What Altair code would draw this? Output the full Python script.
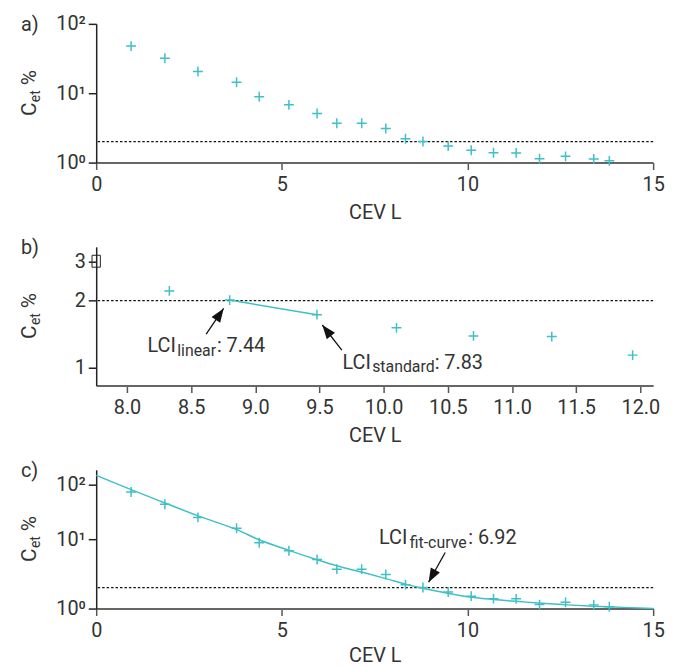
import altair as alt
import pandas as pd

# ---------------- data ----------------
cev = [0.94, 1.85, 2.74, 3.78, 4.39, 5.19, 5.95, 6.48, 7.15, 7.80,
       8.33, 8.80, 9.48, 10.10, 10.70, 11.31, 11.94, 12.64, 13.40, 13.82]
cet = [47.8, 31.9, 20.6, 14.4, 8.9, 6.8, 5.1, 3.7, 3.7, 3.1,
       2.21, 2.01, 1.73, 1.51, 1.39, 1.38, 1.14, 1.23, 1.13, 1.06]

fit_cev = [0, 0.94, 1.85, 2.76, 3.80, 4.39, 5.19, 5.95, 6.5, 7.2, 7.8,
           8.33, 8.82, 9.5, 10.0, 10.7, 11.4, 12.0, 12.7, 13.4, 14.2, 15.0]
fit_cet = [83, 51.8, 33.3, 21.5, 13.6, 9.8, 6.9, 5.06, 4.1, 3.3, 2.7,
           2.25, 1.95, 1.65, 1.48, 1.35, 1.26, 1.19, 1.13, 1.08, 1.04, 1.0]

threshold = [2.0]

x_ticks_ac = [0, 5, 10, 15]
x_ticks_b = [8.0, 8.5, 9.0, 9.5, 10.0, 10.5, 11.0, 11.5, 12.0]
y_ticks_a = [1, 10, 100]
y_ticks_b = [1, 2, 3]
y_ticks_c = [1, 10, 62]

panel_labels = ["a)", "b)", "c)"]

# annotations (data coordinates)
arrow_b_tail_x = [8.617, 9.674]
arrow_b_tail_y = [1.414, 1.201]
arrow_b_tip_x = [8.753, 9.522]
arrow_b_tip_y = [1.844, 1.555]
arrow_b_angle = [34, 322]

arrow_c_tail_x = [9.40]
arrow_c_tail_y = [6.44]
arrow_c_tip_x = [8.953]
arrow_c_tip_y = [2.40]
arrow_c_angle = [209]

lci_linear = ("linear", ": 7.44", 8.160, 1.172)
lci_standard = ("standard", ": 7.83", 9.679, 0.993)
lci_fit = ("fit-curve", ": 6.92", 7.618, 8.57)

# ---------------- styling ----------------
TEAL = "#3fbfc7"
TXT = "#333333"
FONT = "Roboto"
W, H = 562, 140
PLUS = "M-1,0L1,0M0,-1L0,1"
HEAD = "M0,0L0.75,2L-0.75,2Z"
BOX = "M-0.7,-1L0.7,-1L0.7,1L-0.7,1Z"

pts = pd.DataFrame({"cev": cev, "cet": cet})
fit = pd.DataFrame({"cev": fit_cev, "cet": fit_cet})
one = pd.DataFrame({"k": [0]})


def enc_x(domain, ticks, fmt, tpad=8):
    return alt.X(
        "cev:Q",
        scale=alt.Scale(domain=domain, nice=False, zero=False),
        axis=alt.Axis(
            values=ticks, format=fmt, title="CEV L", grid=False,
            domainColor="#666666", domainWidth=2, tickColor="#555555",
            tickWidth=1.5, tickSize=7, labelFont=FONT, labelFontSize=20,
            labelColor=TXT, labelPadding=5, labelFlush=False,
            labelOverlap=False, titleFont=FONT, titleFontSize=20,
            titleFontWeight="normal", titleColor=TXT, titlePadding=tpad,
        ),
    )


def enc_y(domain, ticks, label_expr):
    return alt.Y(
        "cet:Q",
        scale=alt.Scale(type="log", domain=domain, nice=False),
        axis=alt.Axis(
            values=ticks, labelExpr=label_expr, title=None, grid=False,
            domainColor="#222222", domainWidth=1.5, tickColor="#222222",
            tickWidth=1.5, tickSize=8, labelFont=FONT, labelFontSize=20,
            labelColor=TXT, labelPadding=3, labelOverlap=False,
        ),
    )


def decorations(label):
    layers = [
        alt.Chart(one).mark_text(text=label, font=FONT, fontSize=20, color=TXT,
                                 align="left", baseline="alphabetic")
        .encode(x=alt.value(-76), y=alt.value(7)),
        alt.Chart(one).mark_text(text="C", font=FONT, fontSize=21, color=TXT,
                                 angle=270, align="left", baseline="alphabetic")
        .encode(x=alt.value(-61), y=alt.value(93)),
        alt.Chart(one).mark_text(text="et", font=FONT, fontSize=14, color=TXT,
                                 angle=270, align="left", baseline="alphabetic")
        .encode(x=alt.value(-57), y=alt.value(79)),
        alt.Chart(one).mark_text(text="%", font=FONT, fontSize=21, color=TXT,
                                 angle=270, align="left", baseline="alphabetic")
        .encode(x=alt.value(-61), y=alt.value(62)),
    ]
    return layers


def lci_label(X, Y, spec, dx_sub, dx_val):
    sub, val, x, y = spec
    df = pd.DataFrame({"cev": [x], "cet": [y]})
    return [
        alt.Chart(df).mark_text(text="LCI", font=FONT, fontSize=20, color=TXT,
                                align="left", baseline="alphabetic")
        .encode(x=X, y=Y),
        alt.Chart(df).mark_text(text=sub, font=FONT, fontSize=16, color=TXT,
                                align="left", baseline="alphabetic",
                                dx=dx_sub, dy=4)
        .encode(x=X, y=Y),
        alt.Chart(df).mark_text(text=val, font=FONT, fontSize=20, color=TXT,
                                align="left", baseline="alphabetic", dx=dx_val)
        .encode(x=X, y=Y),
    ]


def arrows(X, Y, tx, ty, hx, hy, ang):
    df = pd.DataFrame({"cev": tx, "cet": ty, "cev2": hx, "cet2": hy})
    heads = pd.DataFrame({"cev": hx, "cet": hy, "ang": ang})
    shaft = alt.Chart(df).mark_rule(color="#111111", strokeWidth=1.3).encode(
        x=X, y=Y, x2="cev2:Q", y2="cet2:Q")
    head = alt.Chart(heads).mark_point(shape=HEAD, filled=True, size=196,
                                       color="#111111", opacity=1,
                                       strokeWidth=0).encode(
        x=X, y=Y, angle=alt.Angle("ang:Q", scale=None))
    return [shaft, head]


def points(X, Y, data):
    return alt.Chart(data).mark_point(shape=PLUS, size=100, filled=False,
                                      color=TEAL, strokeWidth=1.5,
                                      opacity=1).encode(x=X, y=Y)


def thr(X, Y):
    return alt.Chart(pd.DataFrame({"cet": threshold})).mark_rule(
        color="#111111", strokeWidth=1.2, strokeDash=[2.5, 2]).encode(y=Y)


sup_expr = ("datum.index == 0 ? '10\u2070' : datum.index < 0.75 ? "
            "'10\u00b9' : '10\u00b2'")

# ---------------- panel a ----------------
Xa = enc_x([0, 15], x_ticks_ac, "d")
Ya = enc_y([1, 100], y_ticks_a, sup_expr)
panel_a = alt.layer(
    thr(Xa, Ya), points(Xa, Ya, pts), *decorations(panel_labels[0])
).properties(width=W, height=H)

# ---------------- panel b ----------------
Xb = enc_x([7.76, 12.1], x_ticks_b, ".1f")
Yb = enc_y([0.833, 3.48], y_ticks_b, "format(datum.value, 'd')")
seg = alt.Chart(pts).transform_filter(
    (alt.datum.cev > 8.5) & (alt.datum.cev < 9.6)
).mark_line(color=TEAL, strokeWidth=1.5).encode(x=Xb, y=Yb)
pts_b = points(Xb, Yb, pts).transform_filter(
    (alt.datum.cev > 8.0) & (alt.datum.cev < 12.1))
box = alt.Chart(pd.DataFrame({"cet": [3.0]})).mark_point(
    shape=BOX, size=144, filled=False, color="#222222", strokeWidth=1,
    opacity=1).encode(x=alt.value(0), y=Yb)
panel_b = alt.layer(
    thr(Xb, Yb), seg, pts_b, box,
    *arrows(Xb, Yb, arrow_b_tail_x, arrow_b_tail_y, arrow_b_tip_x,
            arrow_b_tip_y, arrow_b_angle),
    *lci_label(Xb, Yb, lci_linear, 30, 70),
    *lci_label(Xb, Yb, lci_standard, 30, 93),
    *decorations(panel_labels[1])
).properties(width=W, height=H)

# ---------------- panel c ----------------
Xc = enc_x([0, 15], x_ticks_ac, "d", tpad=5)
Yc = enc_y([1, 100], y_ticks_c, sup_expr)
curve = alt.Chart(fit).mark_line(color=TEAL, strokeWidth=1.5,
                                 interpolate="monotone").encode(x=Xc, y=Yc)
panel_c = alt.layer(
    thr(Xc, Yc), curve, points(Xc, Yc, pts),
    *arrows(Xc, Yc, arrow_c_tail_x, arrow_c_tail_y, arrow_c_tip_x,
            arrow_c_tip_y, arrow_c_angle),
    *lci_label(Xc, Yc, lci_fit, 31, 90),
    *decorations(panel_labels[2])
).properties(width=W, height=H)

chart = alt.vconcat(panel_a, panel_b, panel_c, spacing=14).properties(
    padding={"left": 10, "top": 2, "right": 5, "bottom": 0}
).configure_view(stroke="transparent")

chart.save("out.html", embed_options={"renderer": "svg", "actions": False})
